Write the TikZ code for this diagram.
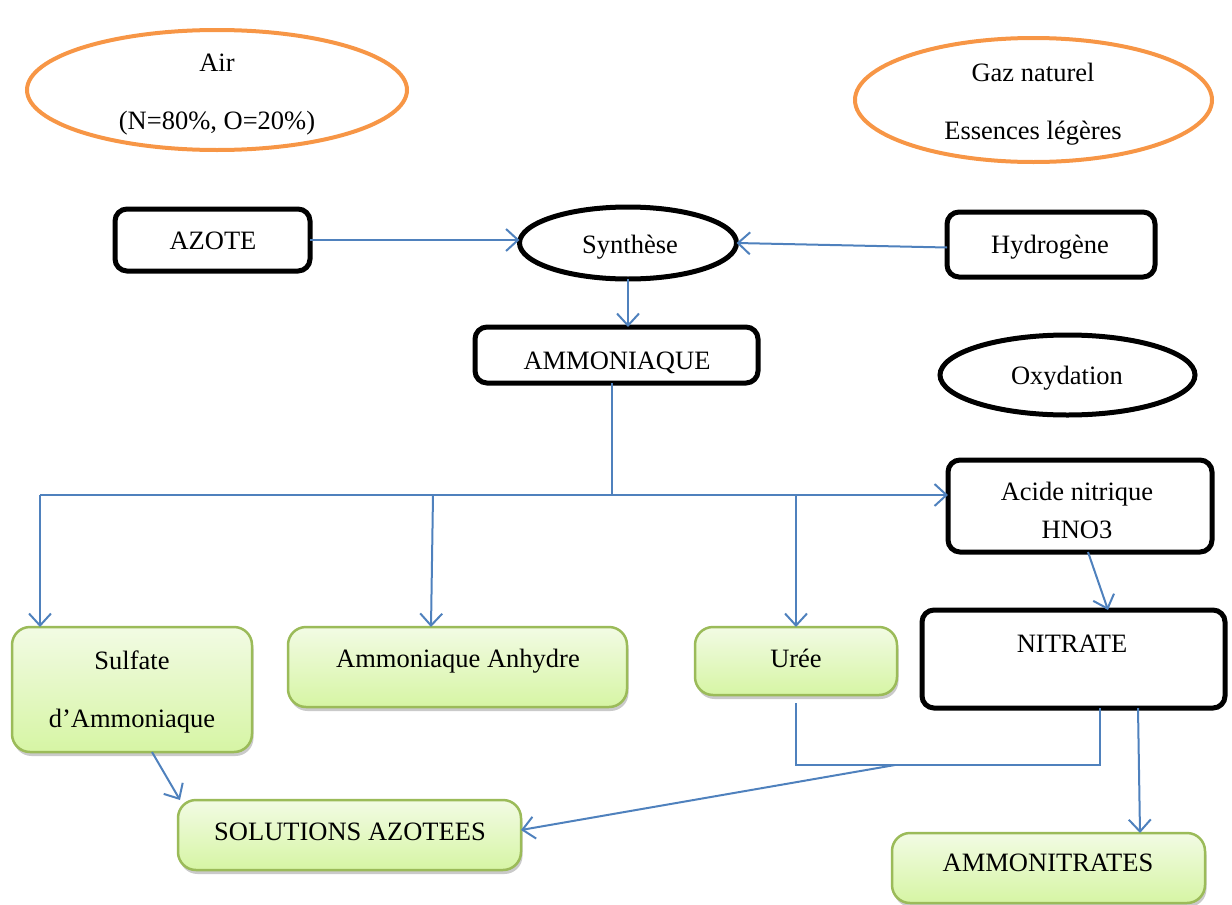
\documentclass[tikz,border=0pt]{standalone}
\usepackage{fontspec}
\setmainfont{Liberation Serif}
\usetikzlibrary{arrows.meta,shapes.geometric,shadows,calc}
\definecolor{arrblue}{HTML}{4F81BD}
\definecolor{orng}{HTML}{F79646}
\definecolor{gborder}{HTML}{9BBB59}
\definecolor{gtop}{HTML}{F2FBE4}
\definecolor{gbot}{HTML}{D6F5A4}
\begin{document}
\begin{tikzpicture}[x=1pt,y=-1pt,
  every node/.style={inner sep=0pt, outer sep=0pt},
  txt/.style={font=\fontsize{26.5}{32}\selectfont, anchor=base},
  blackbox/.style={draw=black, line width=5pt, rounded corners=12pt, fill=white},
  blackell/.style={ellipse, draw=black, line width=5pt, fill=white},
  orangeell/.style={ellipse, draw=orng, line width=4pt},
  greenbox/.style={draw=gborder, line width=2.5pt, rounded corners=18pt,
    top color=gtop, bottom color=gbot,
    drop shadow={shadow xshift=1.5pt, shadow yshift=-4pt, opacity=0.35, fill=black!60}},
  conn/.style={draw=arrblue, line width=2pt},
  arr/.style={conn, -{Straight Barb[length=12pt,width=22pt]}},
]
\useasboundingbox (0,0) rectangle (1232,905);

% sources
\node[orangeell, minimum width=380pt, minimum height=120pt] (air) at (217,90) {};
\node[txt] (airA) at (217,71) {Air};
\node[txt] (airB) at (217,129) {(N=80\%, O=20\%)};
\node[orangeell, minimum width=357pt, minimum height=124pt] (gaz) at (1033.5,100) {};
\node[txt] (gazA) at (1033,81) {Gaz naturel};
\node[txt] (gazB) at (1033,139) {Essences légères};

% top row
\node[blackbox, minimum width=195pt, minimum height=62pt] (azote) at (212.5,240) {};
\node[txt] (azoteT) at (213,249) {AZOTE};
\node[blackell, minimum width=217pt, minimum height=72pt] (synth) at (628,243) {};
\node[txt] (synthT) at (630,253) {Synthèse};
\node[blackbox, minimum width=208pt, minimum height=65pt] (hydro) at (1051,244.5) {};
\node[txt] (hydroT) at (1050,253) {Hydrogène};

\node[blackbox, minimum width=283pt, minimum height=56pt] (ammo) at (616.5,355) {};
\node[txt] (ammoT) at (617,369) {AMMONIAQUE};
\node[blackell, minimum width=255pt, minimum height=80pt] (oxy) at (1067.5,375) {};
\node[txt] (oxyT) at (1067,384) {Oxydation};

\node[blackbox, minimum width=264pt, minimum height=92pt] (acide) at (1080,506) {};
\node[txt] (acideA) at (1077,500) {Acide nitrique};
\node[txt] (acideB) at (1077,538) {HNO3};
\node[blackbox, minimum width=303pt, minimum height=98pt] (nitrate) at (1073.5,659) {};
\node[txt] (nitrateT) at (1072,652) {NITRATE};

% products
\node[greenbox, minimum width=240pt, minimum height=125pt] (sulfate) at (132,689.5) {};
\node[txt] (sulfA) at (132,669) {Sulfate};
\node[txt] (sulfB) at (132,727) {d’Ammoniaque};
\node[greenbox, minimum width=339pt, minimum height=80pt] (anhydre) at (457.5,667) {};
\node[txt] (anhT) at (458,667) {Ammoniaque Anhydre};
\node[greenbox, minimum width=202pt, minimum height=68pt] (uree) at (796,661) {};
\node[txt] (ureeT) at (796,667) {Urée};
\node[greenbox, minimum width=343pt, minimum height=70pt] (solutions) at (349.5,835) {};
\node[txt] (solT) at (350,840) {SOLUTIONS AZOTEES};
\node[greenbox, minimum width=313pt, minimum height=70pt] (ammonitr) at (1048.5,868) {};
\node[txt] (amnT) at (1048,871) {AMMONITRATES};

% connectors
\draw[arr] (azote.east) -- (azote.east -| synth.west);
\draw[arr] ([yshift=-3pt]hydro.west) -- (synth.east);
\draw[arr] (synth.south) -- (synth.south |- ammo.north);

\coordinate (hub) at (612,495);
\coordinate (b1) at (40,495);
\coordinate (b2) at (433,495);
\coordinate (b3) at (796,495);
\draw[conn] (ammo.south -| hub) -- (hub);
\draw[conn] (b1) -- (hub);
\draw[arr] (hub) -- (hub -| acide.west);
\draw[arr] (b1) -- (b1 |- sulfate.north);
\draw[arr] (b2) -- ($(b2 |- anhydre.north)+(-2,0)$);
\draw[arr] (b3) -- (uree.north);

\draw[arr] ($(acide.south)+(8,0)$) -- ($(nitrate.north)+(34.5,0)$);
\draw[arr] ($(sulfate.south)+(20,0)$) -- ($(solutions.north west)+(2,0)$);

\coordinate (m1) at (796,765);
\coordinate (m2) at (1100,765);
\coordinate (m3) at (895,765);
\draw[conn] ([yshift=-8pt]uree.south) -- (m1) -- (m2) -- (m2 |- nitrate.south);
\draw[arr] (m3) -- ($(solutions.east)+(0,-5)$);
\draw[arr] ($(nitrate.south)+(64.5,0)$) -- ($(ammonitr.north)+(91.5,0)$);
\end{tikzpicture}
\end{document}
